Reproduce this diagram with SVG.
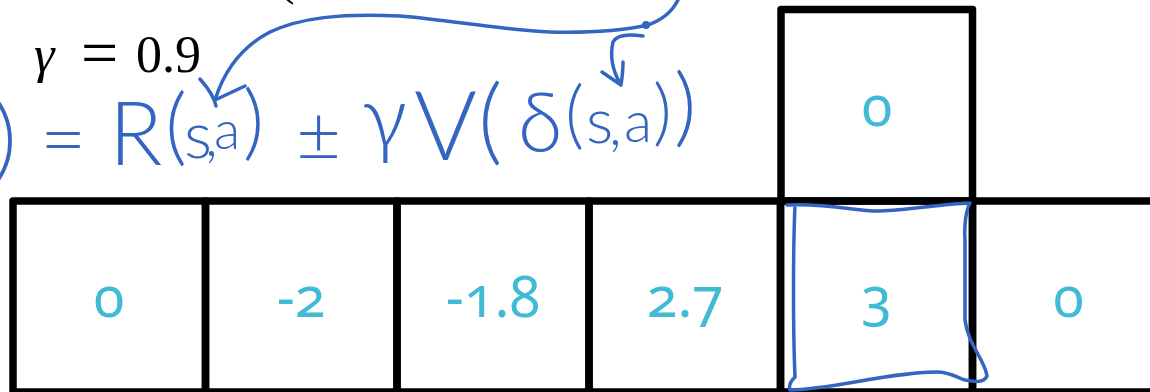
<svg xmlns="http://www.w3.org/2000/svg" width="1150" height="392" viewBox="0 0 1150 392">
<style>
.cell{fill:none;stroke:#000;stroke-width:7.5;stroke-linejoin:round}
.num{font-family:"Noto Sans","Open Sans",sans-serif;font-size:56px;fill:#40BAD5;text-anchor:middle;font-feature-settings:"onum" 1;font-variant-numeric:oldstyle-nums}
.ink{fill:none;stroke:#3465C0;stroke-width:3.5;stroke-linecap:round;stroke-linejoin:round}
.inktext{font-family:Lato,"Open Sans",sans-serif;font-weight:300;fill:#3465C0}
.math{font-family:"Liberation Serif",serif;fill:#000}
</style>
<rect width="1150" height="392" fill="#fff"/>
<g id="gamma">
<text class="math" x="34" y="72" style="font-size:52px"><tspan font-style="italic">γ</tspan><tspan x="81" y="75" style="font-size:66px">=</tspan><tspan x="136" y="72">0.9</tspan></text>
<text class="math" x="278" y="-6" style="font-size:50px">(</text>
</g>
<g id="formula">
<text class="inktext"><tspan x="-6" y="169" style="font-size:88px">)</tspan><tspan x="40" y="168" style="font-size:80px">=</tspan><tspan x="109" y="165" style="font-size:88px">R</tspan><tspan x="165" y="155" style="font-size:85px">(</tspan><tspan x="184" y="158" style="font-size:66px">s</tspan><tspan x="205" y="156" style="font-size:58px">,</tspan><tspan x="214" y="149" style="font-size:54px">a</tspan><tspan x="243" y="150" style="font-size:82px">)</tspan><tspan x="296" y="161" style="font-size:78px">±</tspan><tspan x="362" y="148" style="font-size:86px">γ</tspan><tspan x="414" y="160" style="font-size:96px">V</tspan><tspan x="478" y="153" style="font-size:95px">(</tspan><tspan x="518" y="152" style="font-size:82px">δ</tspan><tspan x="565" y="140" style="font-size:74px">(</tspan><tspan x="586" y="143" style="font-size:64px">s</tspan><tspan x="609" y="145" style="font-size:58px">,</tspan><tspan x="624" y="142" style="font-size:58px">a</tspan><tspan x="653" y="137" style="font-size:73px">)</tspan><tspan x="674" y="136" style="font-size:87px">)</tspan></text>
</g>
<g id="top-cell">
<rect class="cell" x="781" y="9.5" width="191.5" height="191.5"/>
<text class="num" x="877" y="125.5">0</text>
</g>
<g id="cell-1">
<rect class="cell" x="13" y="201" width="192.5" height="191"/>
<text class="num" x="109" y="317">0</text>
</g>
<g id="cell-2">
<rect class="cell" x="205.5" y="201" width="191.5" height="191"/>
<text class="num" x="301" y="317">-2</text>
</g>
<g id="cell-3">
<rect class="cell" x="397" y="201" width="192" height="191"/>
<text class="num" x="493" y="317">-1.8</text>
</g>
<g id="cell-4">
<rect class="cell" x="589" y="201" width="191.5" height="191"/>
<text class="num" x="685" y="317">2.7</text>
</g>
<g id="cell-5">
<rect class="cell" x="780.5" y="201" width="192" height="191"/>
<text class="num" x="876.5" y="317">3</text>
</g>
<g id="cell-6">
<rect class="cell" x="972.5" y="201" width="200" height="191"/>
<text class="num" x="1068.5" y="317">0</text>
</g>
<g id="connectors">
<path class="ink" d="M678,0 C672,12 662,20 648,25 C620,31 590,33 550,32 C500,30 450,20 400,16 C340,13 300,18 270,32 C245,45 225,68 215,100"/>
<circle cx="646" cy="25" r="4" fill="#3465C0"/>
<path class="ink" d="M200,79 C208,88 214,96 216,106 M245,86 L215,100"/>
<path class="ink" d="M643,36 C630,34 617,34 613,42 C610,55 612,70 621,85 M602,72 L621,85 M623,62 C623,72 622,78 621,85"/>
<path class="ink" d="M787,205 C830,203 860,212 880,211 C910,210 940,204 970,203 C966,210 964,225 965,240 L965,320 C968,345 985,360 987,376 C984,383 975,382 965,380 C958,378 950,372 937,372 C890,372 830,390 790,390 C788,385 792,380 795,377 C793,330 793,250 795,205"/>
</g>
</svg>
